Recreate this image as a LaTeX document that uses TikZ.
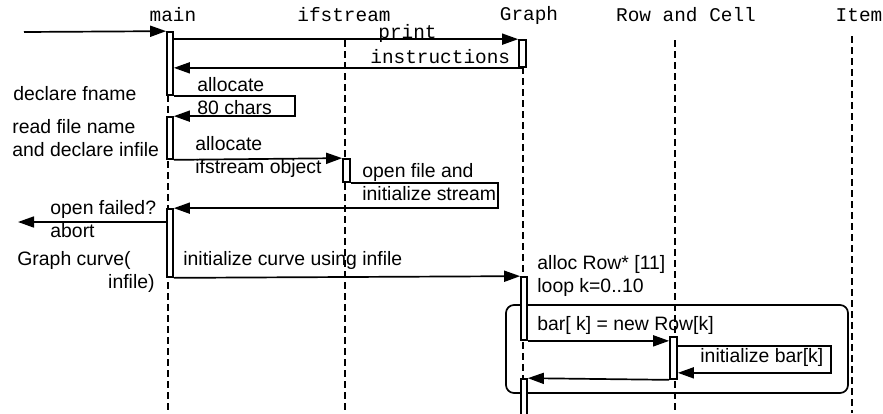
\documentclass[tikz,border=0pt]{standalone}
\usepackage{fontspec}
\setmainfont{Liberation Sans}
\setmonofont{Liberation Mono}
\usetikzlibrary{arrows.meta,fit}

\tikzset{
  msg/.style={line width=0.85pt, -{Triangle[length=8pt,width=5.5pt]}},
  life/.style={line width=0.85pt, dash pattern=on 3.5pt off 2pt},
  actbar/.style={draw, fill=white, line width=0.85pt, inner sep=0pt},
  lbl/.style={inner sep=0pt, anchor=west, align=left},
  monolbl/.style={inner sep=0pt, anchor=west, font=\ttfamily\fontsize{9.7}{11.2}\selectfont},
  head/.style={inner sep=0pt, font=\ttfamily\fontsize{9.7}{11.2}\selectfont},
  loopbox/.style={draw, line width=0.85pt, rounded corners=4pt, inner sep=0pt}
}

\begin{document}
\begin{tikzpicture}[x=0.5pt, y=-0.5pt, font=\fontsize{9.7}{11.2}\selectfont]
  \clip (0,0) rectangle (883,413);

  % object names
  \node[head] (mainH) at (173,15) {main};
  \node[head] (ifsH) at (344,15) {ifstream};
  \node[head] (graphH) at (529,15) {Graph};
  \node[head] (rowH) at (686,15) {Row and Cell};
  \node[head] (itemH) at (859,15) {Item};

  % lifelines
  \foreach \x/\y in {168/95, 345/40, 523/67, 675/40, 852/36}
    \draw[life] (\x,\y) -- (\x,413);

  % loop frame
  \node[loopbox, fit={(506,305) (848,393)}] (loopK) {};

  % activation bars
  \node[actbar, fit={(167,32) (173,95)}] (mainA) {};
  \node[actbar, fit={(167,117) (173,159)}] (mainB) {};
  \node[actbar, fit={(167,209) (173,277)}] (mainC) {};
  \node[actbar, fit={(343,159) (350,182)}] (ifsA) {};
  \node[actbar, fit={(519,40) (526,67)}] (graphA) {};
  \node[actbar, fit={(521,277) (527,340)}] (graphB) {};
  \node[actbar, fit={(521,379) (527,420)}] (graphC) {};
  \node[actbar, fit={(670,337) (677,379)}] (rowA) {};

  % caller
  \coordinate (caller) at (24,32);
  \draw[msg] (caller) -- (mainA.north west);

  % print instructions
  \draw[msg] (mainA.east |- graphA.north) -- (graphA.north west);
  \draw[msg] (graphA.south) -- (mainA.east |- graphA.south);
  \node[monolbl] (printL) at (378,33) {print};
  \node[monolbl] (instrL) at (370,57) {instructions};

  % declare fname, allocate 80 chars
  \node[lbl] (fnameL) at (13,94) {declare fname};
  \coordinate (allocR) at (295,106);
  \draw[msg] (mainA.south east) -| (allocR) |- (mainB.north east);
  \node[lbl] (allocL) at (197,96) {allocate\\80 chars};

  % read file name, allocate ifstream
  \node[lbl] (readL) at (12,138) {read file name\\and declare infile};
  \draw[msg] (mainB.south east) -- (ifsA.north west);
  \node[lbl] (ifsL) at (195,157) {allocate\\ifstream object};

  % open file and initialize stream
  \coordinate (openR) at (498,196);
  \draw[msg] (ifsA.south east) -| (openR) |- (mainC.north east);
  \node[lbl] (openL) at (362,182) {open file and\\initialize stream};

  % open failed
  \coordinate (abortEnd) at (18,222);
  \draw[msg] (mainC.west |- abortEnd) -- (abortEnd);
  \node[lbl] (failL) at (50,219) {open failed?\\abort};

  % initialize curve
  \node[lbl] (curveL) at (17,260) {Graph curve(};
  \node[inner sep=0pt, anchor=east] (infileL) at (155,283) {infile)};
  \draw[msg] (mainC.south east) -- (graphB.north west);
  \node[lbl] (initL) at (183,260) {initialize curve using infile};

  % alloc rows and loop
  \node[lbl] (rowsL) at (537,276) {alloc Row* [11]\\loop k=0..10};
  \draw[msg] (graphB.south east) -- (rowA.west |- graphB.south);
  \node[lbl] (newL) at (537,325) {bar[ k] = new Row[k]};

  % initialize bar[k]
  \coordinate (initR) at (831,359);
  \draw[msg] ([yshift=-5pt]rowA.north east) -| (initR) |- ([yshift=3.5pt]rowA.south east);
  \node[lbl] (barL) at (700,357) {initialize bar[k]};

  % back to Graph
  \draw[msg] (rowA.south west) -- (graphC.north east);

\end{tikzpicture}
\end{document}
